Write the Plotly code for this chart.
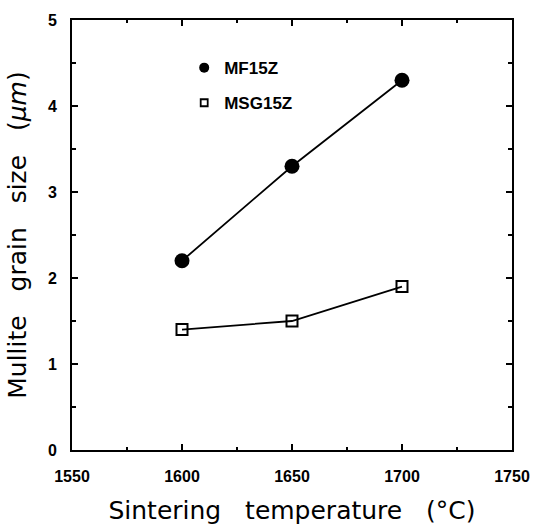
import plotly.graph_objects as go

temps = [1600, 1650, 1700]
mf15z = [2.2, 3.3, 4.3]
msg15z = [1.4, 1.5, 1.9]
names = ["MF15Z", "MSG15Z"]

fig = go.Figure()
fig.add_trace(go.Scatter(x=temps, y=mf15z, mode="lines+markers", showlegend=False,
                         line=dict(color="black", width=1.8),
                         marker=dict(symbol="circle", size=15, color="black")))
fig.add_trace(go.Scatter(x=temps, y=msg15z, mode="lines+markers", showlegend=False,
                         line=dict(color="black", width=1.8),
                         marker=dict(symbol="square-open", size=11, color="black",
                                     line=dict(width=2, color="black"))))
fig.add_trace(go.Scatter(x=[None], y=[None], mode="markers", name=names[0], legendgroup="a",
                         marker=dict(symbol="circle", size=10, color="black")))
fig.add_trace(go.Scatter(x=[None], y=[None], mode="markers", name=names[1], legendgroup="b",
                         marker=dict(symbol="square-open", size=7, color="black",
                                     line=dict(width=1.8, color="black"))))

tickfont = dict(family="Liberation Sans, Arial", size=16, color="black", weight=700)
fig.update_layout(
    width=542, height=532,
    margin=dict(l=72, r=30, t=16, b=80),
    paper_bgcolor="white", plot_bgcolor="white",
    showlegend=True,
    legend=dict(x=0.255, y=0.93, xanchor="left", yanchor="top",
                bgcolor="rgba(0,0,0,0)",
                font=dict(family="Liberation Sans, Arial", size=17, color="black", weight=700),
                tracegroupgap=10, itemwidth=30),
    xaxis=dict(range=[1550, 1750], tickvals=[1550, 1600, 1650, 1700, 1750],
               ticks="inside", ticklen=6, tickwidth=1.5, tickcolor="black",
               showline=True, linecolor="black", linewidth=2, mirror="ticks",
               showgrid=False, zeroline=False, tickfont=tickfont, ticklabelstandoff=11,
               minor=dict(dtick=25, ticks="inside", ticklen=3, tickcolor="black"),
               title=dict(text="Sintering   temperature   (°C)", standoff=17,
                          font=dict(family="DejaVu Sans", size=25, color="black"))),
    yaxis=dict(range=[0, 5], tickvals=[0, 1, 2, 3, 4, 5],
               ticks="inside", ticklen=6, tickwidth=1.5, tickcolor="black",
               showline=True, linecolor="black", linewidth=2, mirror="ticks",
               showgrid=False, zeroline=False, tickfont=tickfont, ticklabelstandoff=10,
               minor=dict(dtick=0.5, ticks="inside", ticklen=4, tickcolor="black"),
               title=dict(text="Mullite   grain   size   (<i>μm</i>)", standoff=14,
                          font=dict(family="DejaVu Sans", size=25, color="black"))),
)
fig.write_html("out.html")
